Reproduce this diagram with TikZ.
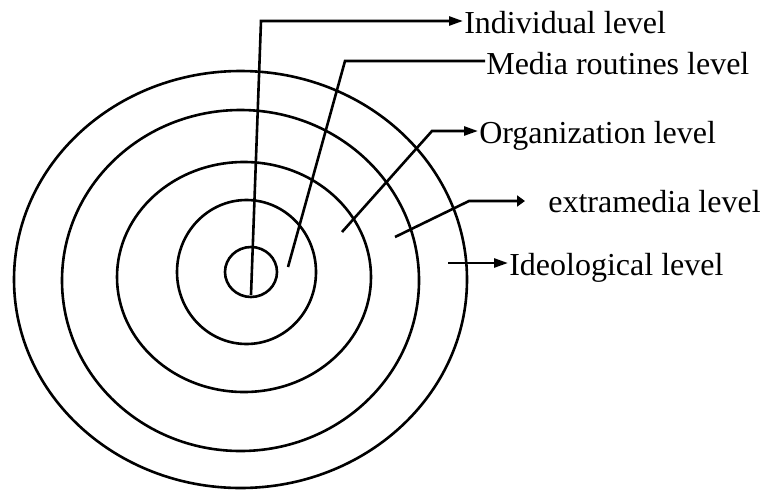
\documentclass[tikz,border=0pt]{standalone}
\usepackage{fontspec}
\setmainfont{Liberation Serif}
\usetikzlibrary{arrows.meta}
\begin{document}
\begin{tikzpicture}[x=1pt,y=-1pt, line width=2.6pt,
  ring/.style={draw},
  lbl/.style={anchor=base west, inner sep=0pt, font=\fontsize{32}{36}\selectfont},
  lead/.style={draw, line join=miter},
  tip/.style={-{Triangle[length=14pt,width=9pt]}},
  stub/.style={-{Triangle[length=8pt,width=11pt]}}]
\useasboundingbox (0,0) rectangle (762,490);
% rings
\draw[ring] (251,272) ellipse [x radius=26, y radius=25];
\draw[ring] (246.5,272) ellipse [x radius=69.5, y radius=72];
\draw[ring] (244,277) ellipse [x radius=127, y radius=115];
\draw[ring] (240.5,280.5) ellipse [x radius=178.5, y radius=170.5];
\draw[ring] (240.5,279.5) ellipse [x radius=226.5, y radius=208.5];
% labels
\node[lbl] (ind) at (463,33) {Individual level};
\node[lbl] (med) at (485,74) {Media routines level};
\node[lbl] (org) at (478,143) {Organization level};
\node[lbl] (ext) at (547,212) {extramedia level};
\node[lbl] (ideo) at (508,275) {Ideological level};
% leader points
\coordinate (a1) at (251,295);
\coordinate (b1) at (261,21);
\coordinate (a2) at (288,267);
\coordinate (b2) at (345,61);
\coordinate (a3) at (342,232);
\coordinate (b3) at (432,131);
\coordinate (a4) at (395,237);
\coordinate (b4) at (469,201);
\coordinate (e4) at (525,201);
\coordinate (a5) at (448,263);
% leaders
\draw[lead,tip] (a1) -- (b1) -- (b1 -| ind.west);
\draw[lead] (a2) -- (b2) -- (b2 -| med.west);
\draw[lead,tip] (a3) -- (b3) -- (b3 -| org.west);
\draw[lead,stub] (a4) -- (b4) -- (e4);
\draw[lead,tip] (a5) -- (a5 -| ideo.west);
\end{tikzpicture}
\end{document}
